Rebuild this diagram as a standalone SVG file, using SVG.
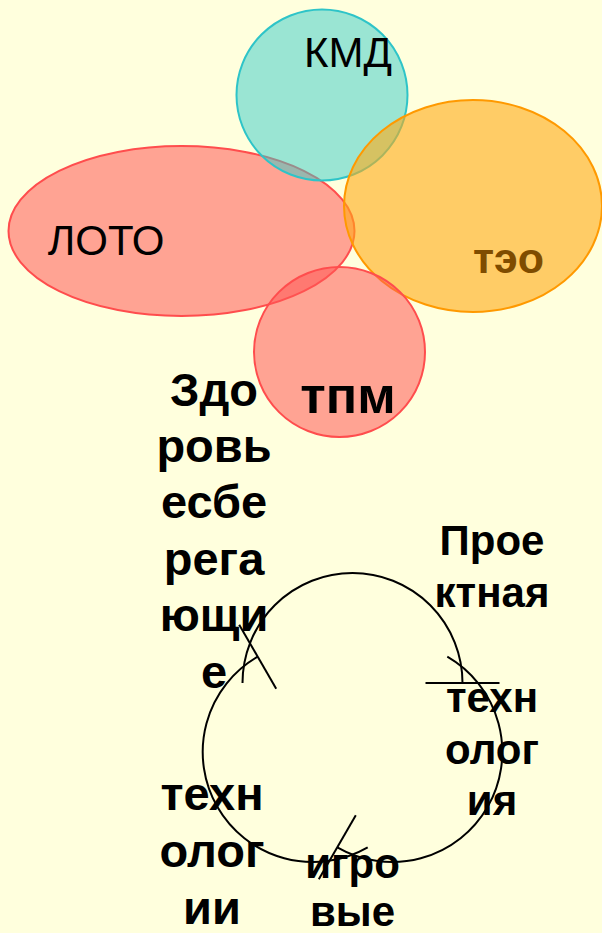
<svg xmlns="http://www.w3.org/2000/svg" width="602" height="933" viewBox="0 0 602 933">
<style>
.bg{fill:#FFFFDD}
.lbl{font-family:"Liberation Sans",Arial,sans-serif;fill:#000;text-anchor:middle}
.n{font-size:42px;font-weight:normal}
.b{font-size:42px;font-weight:bold}
.bl{font-size:47px;font-weight:bold}
.arc{fill:none;stroke:#000;stroke-width:2}
</style>
<rect class="bg" x="0" y="0" width="602" height="933"/>
<g id="loto">
<ellipse cx="181.5" cy="231" rx="173" ry="85" fill="#FF5855" fill-opacity="0.55" stroke="#FF4D4D" stroke-width="2"/>
<text class="lbl n" x="106" y="255">ЛОТО</text>
</g>
<g id="kmd">
<ellipse cx="322" cy="95" rx="85.5" ry="85.5" fill="#35CBC9" fill-opacity="0.5" stroke="#2EC4C8" stroke-width="2"/>
<text class="lbl n" x="348" y="67">КМД</text>
</g>
<g id="teo">
<ellipse cx="473" cy="206" rx="129" ry="106" fill="#FFAA17" fill-opacity="0.6" stroke="#FF9900" stroke-width="2"/>
<text class="lbl b" x="508.5" y="273" style="fill:#7F4C00;font-size:43px">тэо</text>
</g>
<g id="tpm">
<ellipse cx="339.5" cy="352" rx="85.5" ry="85" fill="#FF5855" fill-opacity="0.55" stroke="#FF4D4D" stroke-width="2"/>
<text class="lbl b" x="348" y="413" style="font-size:52px">тпм</text>
</g>
<g id="zdorov">
<text class="lbl bl"><tspan x="214" y="406">Здо</tspan><tspan x="214" y="462">ровь</tspan><tspan x="214" y="518">есбе</tspan><tspan x="214" y="575">рега</tspan><tspan x="214" y="631">ющи</tspan><tspan x="214" y="688">е</tspan></text>
</g>
<g id="proekt">
<text class="lbl b"><tspan x="492" y="555">Прое</tspan><tspan x="492" y="607">ктная</tspan></text>
</g>
<g id="tekhnologiya">
<text class="lbl b"><tspan x="492" y="712">техн</tspan><tspan x="492" y="764">олог</tspan><tspan x="492" y="815">ия</tspan></text>
</g>
<g id="tekhnologii">
<text class="lbl bl"><tspan x="212" y="810">техн</tspan><tspan x="212" y="867">олог</tspan><tspan x="212" y="924">ии</tspan></text>
</g>
<g id="igrovye">
<text class="lbl b"><tspan x="352.5" y="878">игро</tspan><tspan x="352.5" y="926">вые</tspan></text>
</g>
<g id="connectors">
<path class="arc" d="M242.5,683 A110,110 0 0 1 462.5,683"/>
<line class="arc" x1="425.5" y1="683" x2="499.5" y2="683"/>
<path class="arc" d="M447.3,656.7 A110,110 0 0 1 337.3,847.3"/>
<line class="arc" x1="355.8" y1="815.2" x2="318.8" y2="879.3"/>
<path class="arc" d="M367.7,847.3 A110,110 0 0 1 257.7,656.7"/>
<line class="arc" x1="276.2" y1="688.8" x2="239.2" y2="624.7"/>
</g>
</svg>
